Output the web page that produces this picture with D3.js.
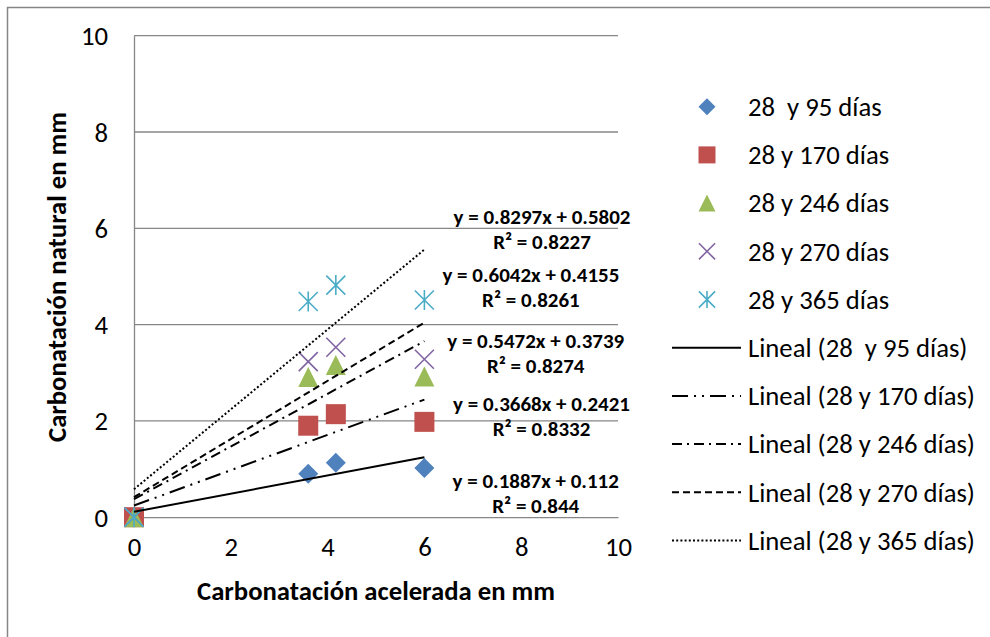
<!DOCTYPE html>
<html>
<head>
<meta charset="utf-8">
<script src="https://cdn.jsdelivr.net/npm/d3@7"></script>
<style>
  html, body { margin: 0; padding: 0; background: #fff; }
  svg { display: block; }
  text { font-family: Carlito, Calibri, Lato, "Open Sans", sans-serif; fill: #000; white-space: pre; }
</style>
</head>
<body>
<svg id="chart" width="990" height="637"></svg>
<script>
// ---------- data ----------
const xValues = [0, 3.6, 4.17, 6];
const seriesNames = ["28  y 95 días", "28 y 170 días", "28 y 246 días", "28 y 270 días", "28 y 365 días"];
const s95  = [0, 0.90, 1.13, 1.02];
const s170 = [0, 1.90, 2.14, 1.98];
const s246 = [0, 2.91, 3.16, 2.92];
const s270 = [0, 3.23, 3.53, 3.28];
const s365 = [0, 4.48, 4.82, 4.51];
const seriesValues = [s95, s170, s246, s270, s365];
const slopes     = [0.1887, 0.3668, 0.5472, 0.6042, 0.8297];
const intercepts = [0.112, 0.2421, 0.3739, 0.4155, 0.5802];
const eqLabels = ["y = 0.1887x + 0.112", "y = 0.3668x + 0.2421", "y = 0.5472x + 0.3739", "y = 0.6042x + 0.4155", "y = 0.8297x + 0.5802"];
const r2Labels = ["R² = 0.844", "R² = 0.8332", "R² = 0.8274", "R² = 0.8261", "R² = 0.8227"];
const xTicks = [0, 2, 4, 6, 8, 10];
const yTicks = [0, 2, 4, 6, 8, 10];
const xTitle = "Carbonatación acelerada en mm";
const yTitle = "Carbonatación natural en mm";

// ---------- styles / layout ----------
const colors = ["#4F81BD", "#C0504D", "#9BBB59", "#8064A2", "#4BACC6"];
const shapes = ["diamond", "square", "triangle", "cross", "star"];
const dashes = [null, "16,6,2,6,2,6", "10,5,2,5", "7,4", "2,2.2"];
// equation label anchor positions (data units: x center, y of equation line)
const eqPos = [[8.3, 0.75], [8.42, 2.35], [8.3, 3.67], [8.2, 5.04], [8.43, 6.24]];

const svg = d3.select("#chart");
const x = d3.scaleLinear().domain([0, 10]).range([134, 618]);
const y = d3.scaleLinear().domain([0, 10]).range([517.2, 35.7]);

function fitSize(str, weight, target) {
  const t = svg.append("text").attr("font-size", 100).attr("font-weight", weight).text(str);
  const w = t.node().getComputedTextLength();
  t.remove();
  return 100 * target / w;
}
const fsReg = fitSize("Lineal (28 y 170 días)", "normal", 227);
const fsEq = fitSize("y = 0.8297x + 0.5802", "bold", 177);
const fsTitle = fitSize(xTitle, "bold", 358);

// outer border (only top & left visible)
svg.append("rect").attr("x", 7.5).attr("y", 7.5).attr("width", 1200).attr("height", 900)
  .attr("fill", "none").attr("stroke", "#868686").attr("stroke-width", 1.5);

// gridlines
svg.append("g").selectAll("line").data(yTicks.filter(d => d > 0)).join("line")
  .attr("x1", x(0)).attr("x2", x(10)).attr("y1", d => y(d)).attr("y2", d => y(d))
  .attr("stroke", "#868686").attr("stroke-width", 1.3);

// axes
const yAxis = d3.axisLeft(y).tickValues(yTicks).tickSize(0).tickPadding(26).tickFormat(d3.format("d"));
const gy = svg.append("g").attr("transform", `translate(${x(0)},0)`).call(yAxis);
gy.select(".domain").attr("stroke", "#868686").attr("stroke-width", 1.3);
gy.selectAll("text").attr("font-size", fsReg).attr("font-family", null).attr("dy", "0.34em");

const xAxis = d3.axisBottom(x).tickValues(xTicks).tickSize(0).tickPadding(25).tickFormat(d3.format("d"));
const gx = svg.append("g").attr("transform", `translate(0,${y(0)})`).call(xAxis);
gx.select(".domain").attr("stroke", "#868686").attr("stroke-width", 1.3);
gx.selectAll("text").attr("font-size", fsReg).attr("font-family", null).attr("dy", "0.5em");

// axis titles
svg.append("text").attr("x", 376).attr("y", 591).attr("text-anchor", "middle").attr("dy", "0.35em")
  .attr("font-size", fsTitle).attr("font-weight", "bold").text(xTitle);
svg.append("text").attr("transform", "translate(57,277) rotate(-90)").attr("text-anchor", "middle").attr("dy", "0.35em")
  .attr("font-size", fsTitle).attr("font-weight", "bold").text(yTitle);

// marker drawing
function marker(g, shape, color, s) {
  const h = s / 2;
  if (shape === "diamond") {
    g.append("path").attr("d", `M0,${-h}L${h},0L0,${h}L${-h},0Z`).attr("fill", color);
  } else if (shape === "square") {
    g.append("rect").attr("x", -h).attr("y", -h).attr("width", s).attr("height", s).attr("fill", color);
  } else if (shape === "triangle") {
    g.append("path").attr("d", `M0,${-h}L${h},${h}L${-h},${h}Z`).attr("fill", color);
  } else if (shape === "cross") {
    const k = h * 0.95;
    g.append("path").attr("d", `M${-k},${-k}L${k},${k}M${-k},${k}L${k},${-k}`)
      .attr("stroke", color).attr("stroke-width", 1.6).attr("fill", "none");
  } else if (shape === "star") {
    const k = h * 0.95;
    g.append("path").attr("d", `M${-k},${-k}L${k},${k}M${-k},${k}L${k},${-k}M0,${-h}L0,${h}`)
      .attr("stroke", color).attr("stroke-width", 1.6).attr("fill", "none");
  }
}

// points
seriesValues.forEach((vals, i) => {
  const g = svg.append("g");
  vals.forEach((v, j) => {
    const m = g.append("g").attr("transform", `translate(${x(xValues[j])},${y(v)})`);
    marker(m, shapes[i], colors[i], 20);
  });
});

// trendlines (from fitted equations, over data x-range)
const xr = d3.extent(xValues);
const line = d3.line().x(d => x(d[0])).y(d => y(d[1]));
slopes.forEach((b, i) => {
  const pts = xr.map(xv => [xv, b * xv + intercepts[i]]);
  svg.append("path").attr("d", line(pts)).attr("fill", "none").attr("stroke", "#000")
    .attr("stroke-width", 2).attr("stroke-dasharray", dashes[i]);
});

// equation labels
slopes.forEach((b, i) => {
  const cx = x(eqPos[i][0]), cy = y(eqPos[i][1]);
  svg.append("text").attr("x", cx).attr("y", cy).attr("text-anchor", "middle").attr("dy", "0.35em")
    .attr("font-size", fsEq).attr("font-weight", "bold").text(eqLabels[i]);
  svg.append("text").attr("x", cx).attr("y", cy + 25).attr("text-anchor", "middle").attr("dy", "0.35em")
    .attr("font-size", fsEq).attr("font-weight", "bold").text(r2Labels[i]);
});

// legend
const legY0 = 106.7, legStep = 48.2, legMarkX = 707, legTextX = 748;
seriesNames.forEach((name, i) => {
  const cy = legY0 + i * legStep;
  const m = svg.append("g").attr("transform", `translate(${legMarkX},${cy})`);
  marker(m, shapes[i], colors[i], 17);
  svg.append("text").attr("x", legTextX).attr("y", cy).attr("dy", "0.35em").attr("font-size", fsReg).text(name);
});
seriesNames.forEach((name, i) => {
  const cy = legY0 + (i + 5) * legStep;
  svg.append("line").attr("x1", 672).attr("x2", 741).attr("y1", cy).attr("y2", cy)
    .attr("stroke", "#000").attr("stroke-width", 2).attr("stroke-dasharray", dashes[i]);
  svg.append("text").attr("x", legTextX).attr("y", cy).attr("dy", "0.35em").attr("font-size", fsReg)
    .text("Lineal (" + name + ")");
});
</script>
</body>
</html>
